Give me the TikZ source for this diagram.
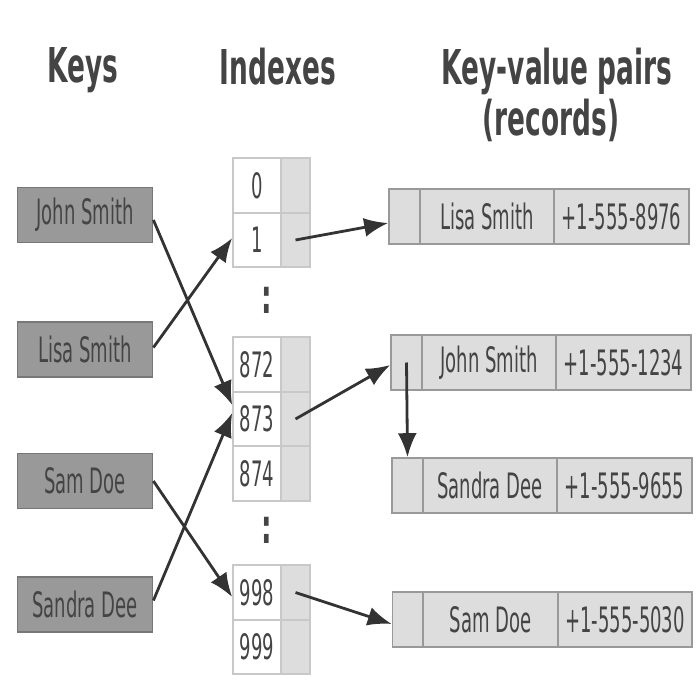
\documentclass[tikz,border=0pt]{standalone}
\usepackage{fontspec}
\setmainfont{DejaVu Sans}[FakeStretch=0.515]
\newfontfamily\headfam{DejaVu Sans}[FakeStretch=0.55]
\usetikzlibrary{arrows.meta}

\definecolor{keygray}{HTML}{999999}
\definecolor{keyline}{HTML}{777777}
\definecolor{cellgray}{HTML}{DDDDDD}
\definecolor{cellline}{HTML}{999999}
\definecolor{idxline}{HTML}{C8C8C8}
\definecolor{inkgray}{HTML}{444444}
\definecolor{arrowgray}{HTML}{333333}

\newcommand{\bodyfont}{\fontsize{17.5}{20}\selectfont}
\newcommand{\headfont}{\headfam\fontsize{24}{28}\selectfont\bfseries}

\begin{document}
\begin{tikzpicture}[x=0.5pt, y=-0.5pt,
		keybox/.style={draw=keyline, fill=keygray, line width=0.9pt, inner sep=0pt,
			minimum width=67.5pt, minimum height=27.5pt, text=inkgray, font=\bodyfont},
		idxcell/.style={draw=idxline, fill=white, line width=0.8pt, inner sep=0pt,
			minimum width=24pt, minimum height=27.25pt, text=inkgray, font=\bodyfont},
		ptrcell/.style={draw=idxline, fill=cellgray, line width=0.8pt, inner sep=0pt,
			minimum width=14.5pt, minimum height=27.25pt},
		recptr/.style={draw=cellline, fill=cellgray, line width=0.8pt, inner sep=0pt,
			minimum width=15.5pt, minimum height=27.5pt},
		reccell/.style={draw=cellline, fill=cellgray, line width=0.8pt, inner sep=0pt,
			minimum width=67.25pt, minimum height=27.5pt, text=inkgray, font=\bodyfont},
		header/.style={anchor=base, text=inkgray, font=\headfont},
		link/.style={draw=arrowgray, line width=1.4pt,
			-{Latex[length=12pt, width=9.5pt]}}]
		\useasboundingbox (0,0) rectangle (700,700);
		% column headers
		\node (hkeys) at (83,83)    [header] {Keys};
		\node (hidx)  at (278,85)   [header] {Indexes};
		\node (hrec)  at (557,85)   [header] {Key-value pairs};
		\node (hrec2) at (551,136)  [header] {(records)};
		% keys
		\node (kjohn)   at (85,215)    [keybox] {John Smith};
		\node (klisa)   at (85,349.5)  [keybox] {Lisa Smith};
		\node (ksam)    at (85,481)    [keybox] {Sam Doe};
		\node (ksandra) at (85,604.5)  [keybox] {Sandra Dee};
		% index table
		\node (i0)   at (257,185.5) [idxcell] {0};
		\node (p0)   at (295.5,185.5) [ptrcell] {};
		\node (i1)   at (257,240)   [idxcell] {1};
		\node (p1)   at (295.5,240) [ptrcell] {};
		\node (dots1) at (267,313)  [header] {:};
		\node (i872) at (257,364.5) [idxcell] {872};
		\node (p872) at (295.5,364.5) [ptrcell] {};
		\node (i873) at (257,419)   [idxcell] {873};
		\node (p873) at (295.5,419) [ptrcell] {};
		\node (i874) at (257,473.5) [idxcell] {874};
		\node (p874) at (295.5,473.5) [ptrcell] {};
		\node (dots2) at (267,543)  [header] {:};
		\node (i998) at (257,592.5) [idxcell] {998};
		\node (p998) at (295.5,592.5) [ptrcell] {};
		\node (i999) at (257,647)   [idxcell] {999};
		\node (p999) at (295.5,647) [ptrcell] {};
		% records
		\node (rlisa)    at (404.5,216.5) [recptr] {};
		\node (rlisak)   at (487,216.5)   [reccell] {Lisa Smith};
		\node (rlisav)   at (621.5,216.5) [reccell] {+1-555-8976};
		\node (rjohn)    at (406.5,362.5) [recptr] {};
		\node (rjohnk)   at (489,362.5)   [reccell] {John Smith};
		\node (rjohnv)   at (623.5,362.5) [reccell] {+1-555-1234};
		\node (rsandra)  at (407.5,485.5) [recptr] {};
		\node (rsandrak) at (490,485.5)   [reccell] {Sandra Dee};
		\node (rsandrav) at (624.5,485.5) [reccell] {+1-555-9655};
		\node (rsam)     at (408,619.5)   [recptr] {};
		\node (rsamk)    at (490.5,619.5) [reccell] {Sam Doe};
		\node (rsamv)    at (625,619.5)   [reccell] {+1-555-5030};
		% hashing
		\draw [link] ([yshift=-2.5pt]kjohn.east) -- ([yshift=7pt]i873.west);
		\draw [link] ([yshift=1pt]klisa.east) -- ([yshift=1pt]i1.west);
		\draw [link] (ksam.east) -- ([yshift=-2.25pt]i998.west);
		\draw [link] ([yshift=2pt]ksandra.east) -- ([yshift=3pt]i873.west);
		% buckets to records
		\draw [link] (p1.center) -- ([yshift=-3.25pt]rlisa.west);
		\draw [link] (p873.center) -- ([yshift=-1.25pt]rjohn.west);
		\draw [link] (p998.center) -- ([yshift=-2.25pt]rsam.west);
		\draw [link] (rjohn.center) -- (rsandra.north);
\end{tikzpicture}
\end{document}
